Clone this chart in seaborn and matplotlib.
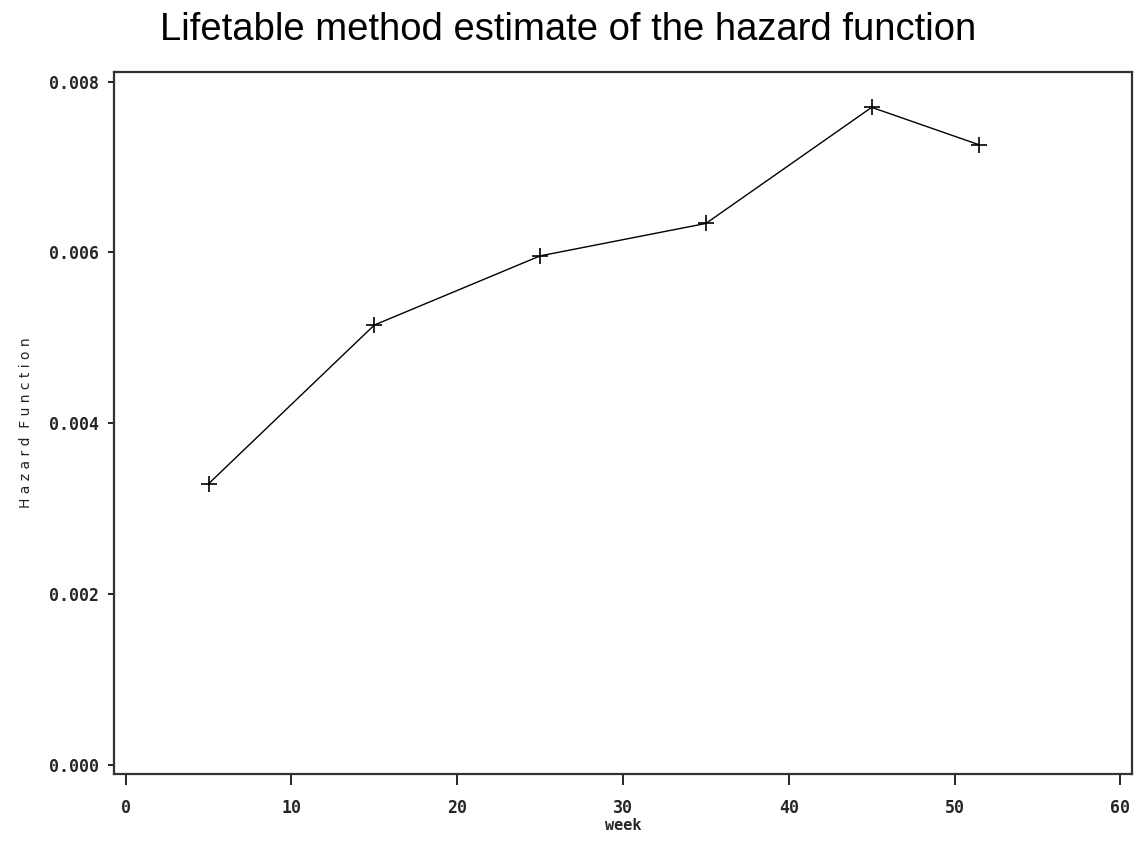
import numpy as np
import pandas as pd
import matplotlib
matplotlib.use('Agg')
import matplotlib.pyplot as plt
import seaborn as sns

# lifetable interval midpoints and hazard estimates
week = [5, 15, 25, 35, 45, 51.5]
hazard = [0.00329, 0.00515, 0.00596, 0.00634, 0.00770, 0.00726]
xticks = [0, 10, 20, 30, 40, 50, 60]
yticks = [0.000, 0.002, 0.004, 0.006, 0.008]

sns.set_style('white')
plt.rcParams['font.family'] = ['DejaVu Sans']

df = pd.DataFrame({'week': week, 'hazard': hazard})

fig = plt.figure(figsize = (11.37, 8.58), dpi = 100)
ax = fig.add_axes([114/1137, 1-774/858, (1132-114)/1137, (774-72)/858])

sns.lineplot(data = df, x = 'week', y = 'hazard', ax = ax, color = 'black', linewidth = 1,
			 marker = '+', markersize = 11, markeredgewidth = 1.2, markeredgecolor = 'black')

ax.set_xlim(-0.7, 60.7)
ax.set_ylim(-0.000109, 0.008114)
ax.set_xticks(xticks)
ax.set_yticks(yticks)
tickFont = dict(fontfamily = 'DejaVu Sans Mono', fontweight = 'bold', fontsize = 12)
ax.set_xticklabels([str(t) for t in xticks], **tickFont)
ax.set_yticklabels(['%.3f' % t for t in yticks], **tickFont)
ax.tick_params(axis = 'x', direction = 'out', length = 8, width = 1.2, pad = 10, color = 'black', bottom = True)
ax.tick_params(axis = 'y', direction = 'out', length = 4.5, width = 1.2, pad = 6, color = 'black', left = True)

for spine in ax.spines.values():
	spine.set_color('#333333')
	spine.set_linewidth(1.6)

ax.set_xlabel('week', fontfamily = 'DejaVu Sans Mono', fontweight = 'bold', fontsize = 11, labelpad = 1)
ax.set_ylabel('H a z a r d  F u n c t i o n', fontfamily = 'DejaVu Sans', fontsize = 10, labelpad = 12,
			  color = '#222222')

fig.text(568/1137, 1-30/858, 'Lifetable method estimate of the hazard function', ha = 'center', va = 'center',
		 fontsize = 27.5, fontfamily = 'Liberation Sans', color = 'black')

fig.savefig('out.png', dpi = 100)
